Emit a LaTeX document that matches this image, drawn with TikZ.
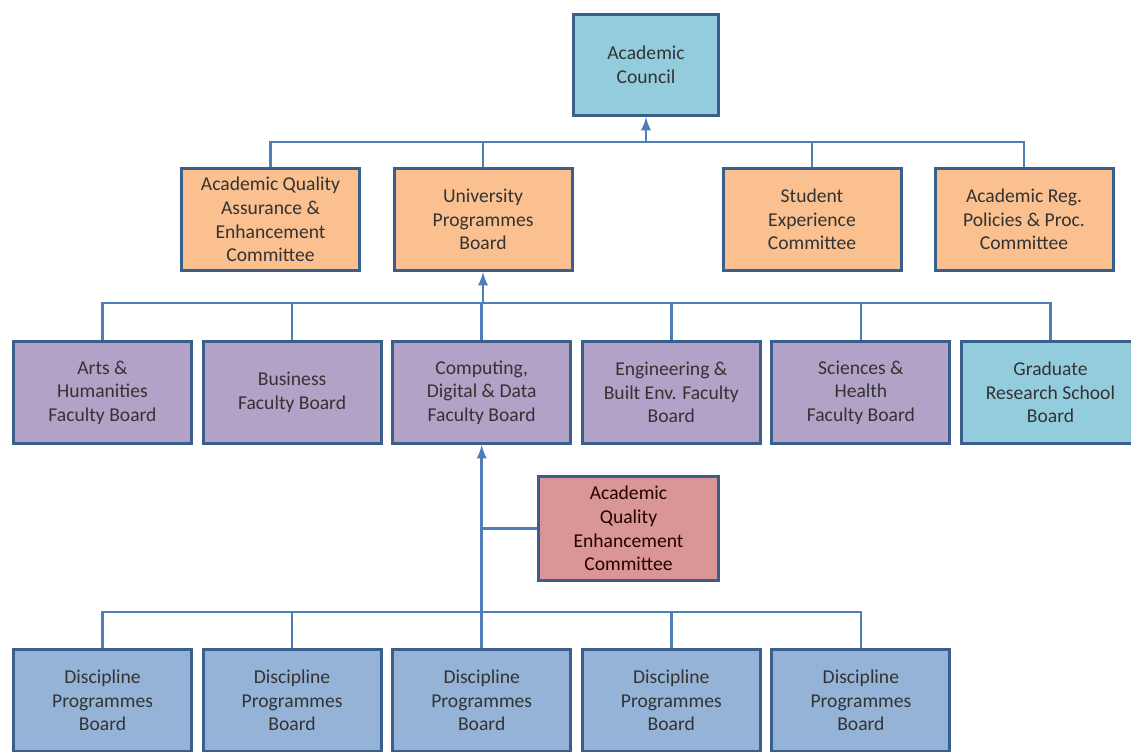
\documentclass[tikz,border=0pt]{standalone}
\usepackage{fontspec}
\setmainfont{Carlito}
\usetikzlibrary{positioning}
\definecolor{edgeblue}{HTML}{3A5F8B}
\definecolor{linkblue}{HTML}{4F7DB8}
\definecolor{councilfill}{HTML}{93CDDD}
\definecolor{orangefill}{HTML}{FAC090}
\definecolor{purplefill}{HTML}{B3A2C7}
\definecolor{redfill}{HTML}{D99694}
\definecolor{bluefill}{HTML}{95B3D7}

\begin{document}
\begin{tikzpicture}[x=0.5pt,y=-0.5pt,node distance=4.3pt,
 box/.style={draw=edgeblue,line width=1.5pt,minimum width=89pt,minimum height=51pt,
 align=center,inner sep=1pt,text=black!80,font=\fontsize{9.8}{11.8}\selectfont},
 council/.style={box,fill=councilfill},
 committee/.style={box,fill=orangefill},
 faculty/.style={box,fill=purplefill},
 quality/.style={box,fill=redfill,text=black!85!red},
 discipline/.style={box,fill=bluefill},
 link/.style={draw=linkblue,line width=1.3pt},
 up/.style={link,-latex}]

\useasboundingbox[fill=white] (0,0) rectangle (1131,751);

  \node[council,minimum width=72.5pt,minimum height=50.5pt] (ac) at (646,65) {Academic\\Council};

  \node[committee] (aqae) at (270.5,219.5) {Academic Quality\\Assurance \&\\Enhancement\\Committee};
  \node[committee] (upb) at (483,219.5) {University\\Programmes\\Board};
  \node[committee] (sec) at (812,219.5) {Student\\Experience\\Committee};
  \node[committee] (arppc) at (1024,219.5) {Academic Reg.\\Policies \& Proc.\\Committee};

  \node[faculty] (arts) at (102.5,392.5) {Arts \&\\Humanities\\Faculty Board};
  \node[faculty,right=of arts] (bus) {Business\\Faculty Board};
  \node[faculty,right=of bus] (cdd) {Computing,\\Digital \& Data\\Faculty Board};
  \node[faculty,right=of cdd] (eng) {Engineering \&\\Built Env. Faculty\\Board};
  \node[faculty,right=of eng] (sci) {Sciences \&\\Health\\Faculty Board};
  \node[council,right=of sci] (grs) {Graduate\\Research School\\Board};

  \node[quality,minimum width=90pt,minimum height=52pt] (aqec) at (628.5,528.5) {Academic\\Quality\\Enhancement\\Committee};

  \node[discipline] (dpb1) at (102.5,700.5) {Discipline\\Programmes\\Board};
  \node[discipline,right=of dpb1] (dpb2) {Discipline\\Programmes\\Board};
  \node[discipline,right=of dpb2] (dpb3) {Discipline\\Programmes\\Board};
  \node[discipline,right=of dpb3] (dpb4) {Discipline\\Programmes\\Board};
  \node[discipline,right=of dpb4] (dpb5) {Discipline\\Programmes\\Board};

  \coordinate (bus1) at (ac.south |- 0,142);
  \coordinate (bus2) at (upb.south |- 0,303);
  \coordinate (bus3) at (cdd.south |- 0,612);

\draw[link] (aqae.north) |- (bus1) -| (arppc.north);
\foreach \n in {upb,sec} \draw[link] (\n.north) -- (\n.north |- bus1);
\draw[up] (bus1) -- (ac);

\draw[link] (arts.north) |- (bus2) -| (grs.north);
\foreach \n in {bus,cdd,eng,sci} \draw[link] (\n.north) -- (\n.north |- bus2);
\draw[up] (bus2) -- (upb);

\draw[link] (dpb1.north) |- (bus3) -| (dpb5.north);
\foreach \n in {dpb2,dpb3,dpb4} \draw[link] (\n.north) -- (\n.north |- bus3);
\draw[up] (bus3) -- (cdd);
\draw[link] (aqec.west) -- (aqec.west -| bus3);

\end{tikzpicture}
\end{document}
